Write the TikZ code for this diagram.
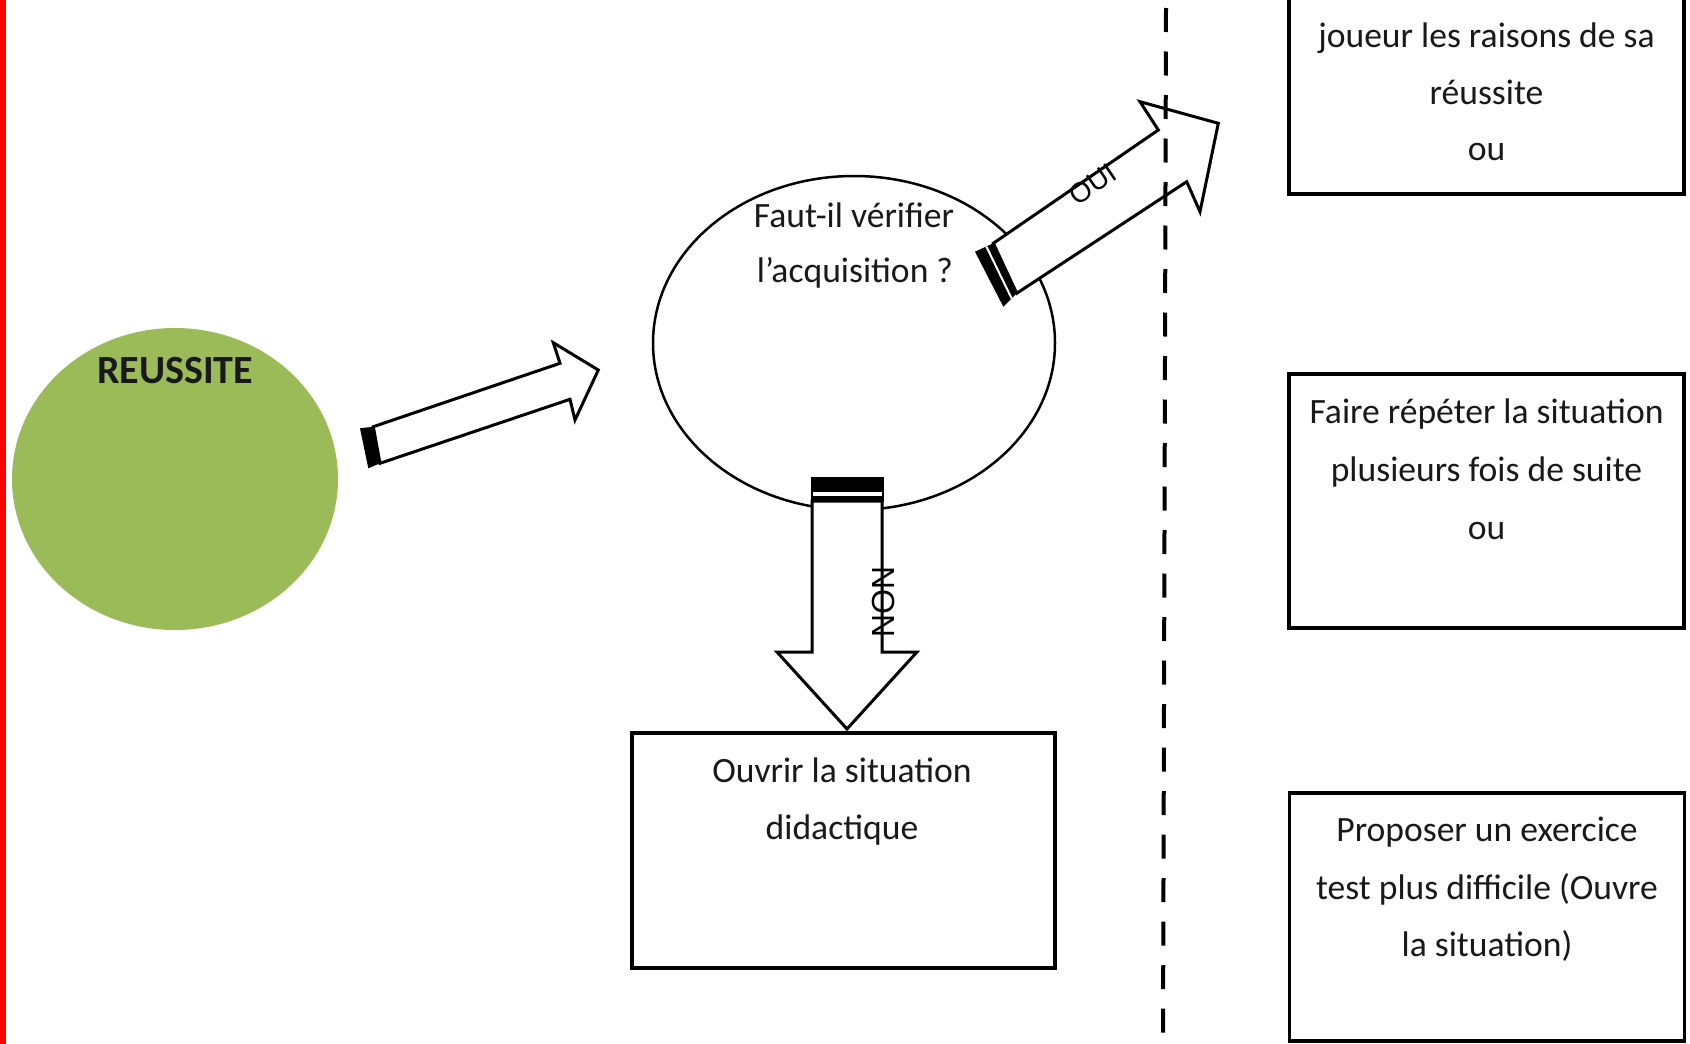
\documentclass[tikz,border=0pt]{standalone}
\usepackage{fontspec}
\setmainfont{Carlito}
\newfontfamily\labelfont{Liberation Sans}
\usetikzlibrary{shapes.geometric,calc}
\definecolor{reussitegreen}{HTML}{9BBB59}
\begin{document}
\begin{tikzpicture}[x=1pt,y=-1pt,
  txt/.style={anchor=base, inner sep=0pt, font=\fontsize{35.6pt}{43pt}\selectfont, text=black!90},
  boxline/.style={rectangle, draw=black, line width=3.5pt, inner sep=0pt},
  blockarrow/.style={draw=black, fill=white, line width=3pt, line join=miter},
  tailbar/.style={fill=black},
  arrowlabel/.style={inner sep=0pt, text=black},
  divider/.style={draw=black, line width=4pt, dash pattern=on 24pt off 19.5pt}
]
\useasboundingbox (0,0) rectangle (1690,1044);
\fill[white] (0,0) rectangle (1690,1044);
\fill[red] (0,0) rectangle (6,1044);

% REUSSITE disc
\node[ellipse, fill=reussitegreen, minimum width=326pt, minimum height=302pt, inner sep=0pt] (reussite) at (175,479) {};
\node[txt, font=\bfseries\fontsize{40pt}{48pt}\selectfont] (reussitetxt) at (175,383) {REUSSITE};

% question ellipse
\node[ellipse, draw=black, line width=2.5pt, minimum width=402pt, minimum height=334pt, inner sep=0pt] (question) at (854,343) {};
\node[txt] (q1) at (854,227) {Faut-il vérifier};
\node[txt] (q2) at (855,282.5) {l’acquisition ?};

% boxes
\node[boxline, minimum width=423pt, minimum height=235pt] (ouvrir) at (843.3,850.3) {};
\node[txt] (o1) at (842,782) {Ouvrir la situation};
\node[txt] (o2) at (842,839) {didactique};

\node[boxline, minimum width=395pt, minimum height=224pt] (boxA) at (1486.5,82) {};
\node[txt] (a1) at (1486.5,47.5) {joueur les raisons de sa};
\node[txt] (a2) at (1486.5,104) {réussite};
\node[txt] (a3) at (1486.5,160.5) {ou};

\node[boxline, minimum width=395pt, minimum height=254pt] (boxB) at (1486.5,501) {};
\node[txt] (b1) at (1486.5,423) {Faire répéter la situation};
\node[txt] (b2) at (1486.5,481.5) {plusieurs fois de suite};
\node[txt] (b3) at (1486.5,539) {ou};

\node[boxline, minimum width=395pt, minimum height=248pt] (boxC) at (1487,917) {};
\node[txt] (c1) at (1487,841.5) {Proposer un exercice};
\node[txt] (c2) at (1487,899) {test plus difficile (Ouvre};
\node[txt] (c3) at (1487,956) {la situation)};

% arrow 1 : REUSSITE -> question
\coordinate (p1a) at (373.3,426.7);
\coordinate (p1b) at (560,363.3);
\coordinate (p1c) at (553.3,342.7);
\coordinate (p1tip) at (598.3,370);
\coordinate (p1e) at (575,420);
\coordinate (p1f) at (570,399.3);
\coordinate (p1g) at (380,463.3);
\coordinate (p1o1) at (360,428.3);
\coordinate (p1o2) at (368.3,468.3);
\draw[blockarrow] (p1a) -- (p1b) -- (p1c) -- (p1tip) -- (p1e) -- (p1f) -- (p1g) -- cycle;
\fill[tailbar] (p1o1) -- (p1a) -- (p1g) -- (p1o2) -- cycle;

% arrow 2 : question -> OUI
\coordinate (p2a) at (993.3,243.3);
\coordinate (p2b) at (1158.3,130);
\coordinate (p2c) at (1140,101.7);
\coordinate (p2tip) at (1218.3,123.3);
\coordinate (p2e) at (1200,211.7);
\coordinate (p2f) at (1186.7,181.7);
\coordinate (p2g) at (1016.7,293.3);
\coordinate (p2o1) at (975,251.7);
\coordinate (p2o2) at (1003.3,306.7);
\draw[blockarrow] (p2a) -- (p2b) -- (p2c) -- (p2tip) -- (p2e) -- (p2f) -- (p2g) -- cycle;
\fill[tailbar] (p2o1) -- (p2a) -- (p2g) -- (p2o2) -- cycle;
\draw[white, line width=2pt] ($(p2o1)!0.62!(p2a)$) -- ($(p2o2)!0.62!(p2g)$);
\node[arrowlabel, rotate=34.5, font=\labelfont\fontsize{28pt}{30pt}\selectfont] (oui) at (1093,184) {OUI};

% arrow 3 : question -> ouvrir
\coordinate (p3a) at (812,501);
\coordinate (p3b) at (812,652);
\coordinate (p3c) at (777,652);
\coordinate (p3tip) at (847,729);
\coordinate (p3e) at (917,652);
\coordinate (p3f) at (882,652);
\coordinate (p3g) at (882,501);
\draw[blockarrow] (p3a) -- (p3b) -- (p3c) -- (p3tip) -- (p3e) -- (p3f) -- (p3g) -- cycle;
\fill[tailbar] (810.5,477) rectangle (883.5,501.5);
\fill[white] (812.5,491.5) rectangle (881.5,495.5);
\node[arrowlabel, rotate=-90, font=\labelfont\fontsize{32pt}{34pt}\selectfont] (non) at (884,602) {NON};

% divider
\coordinate (dtop) at (1166,8);
\coordinate (dbot) at (1163,1050);
\draw[divider] (dtop) -- (dbot);
\end{tikzpicture}
\end{document}
